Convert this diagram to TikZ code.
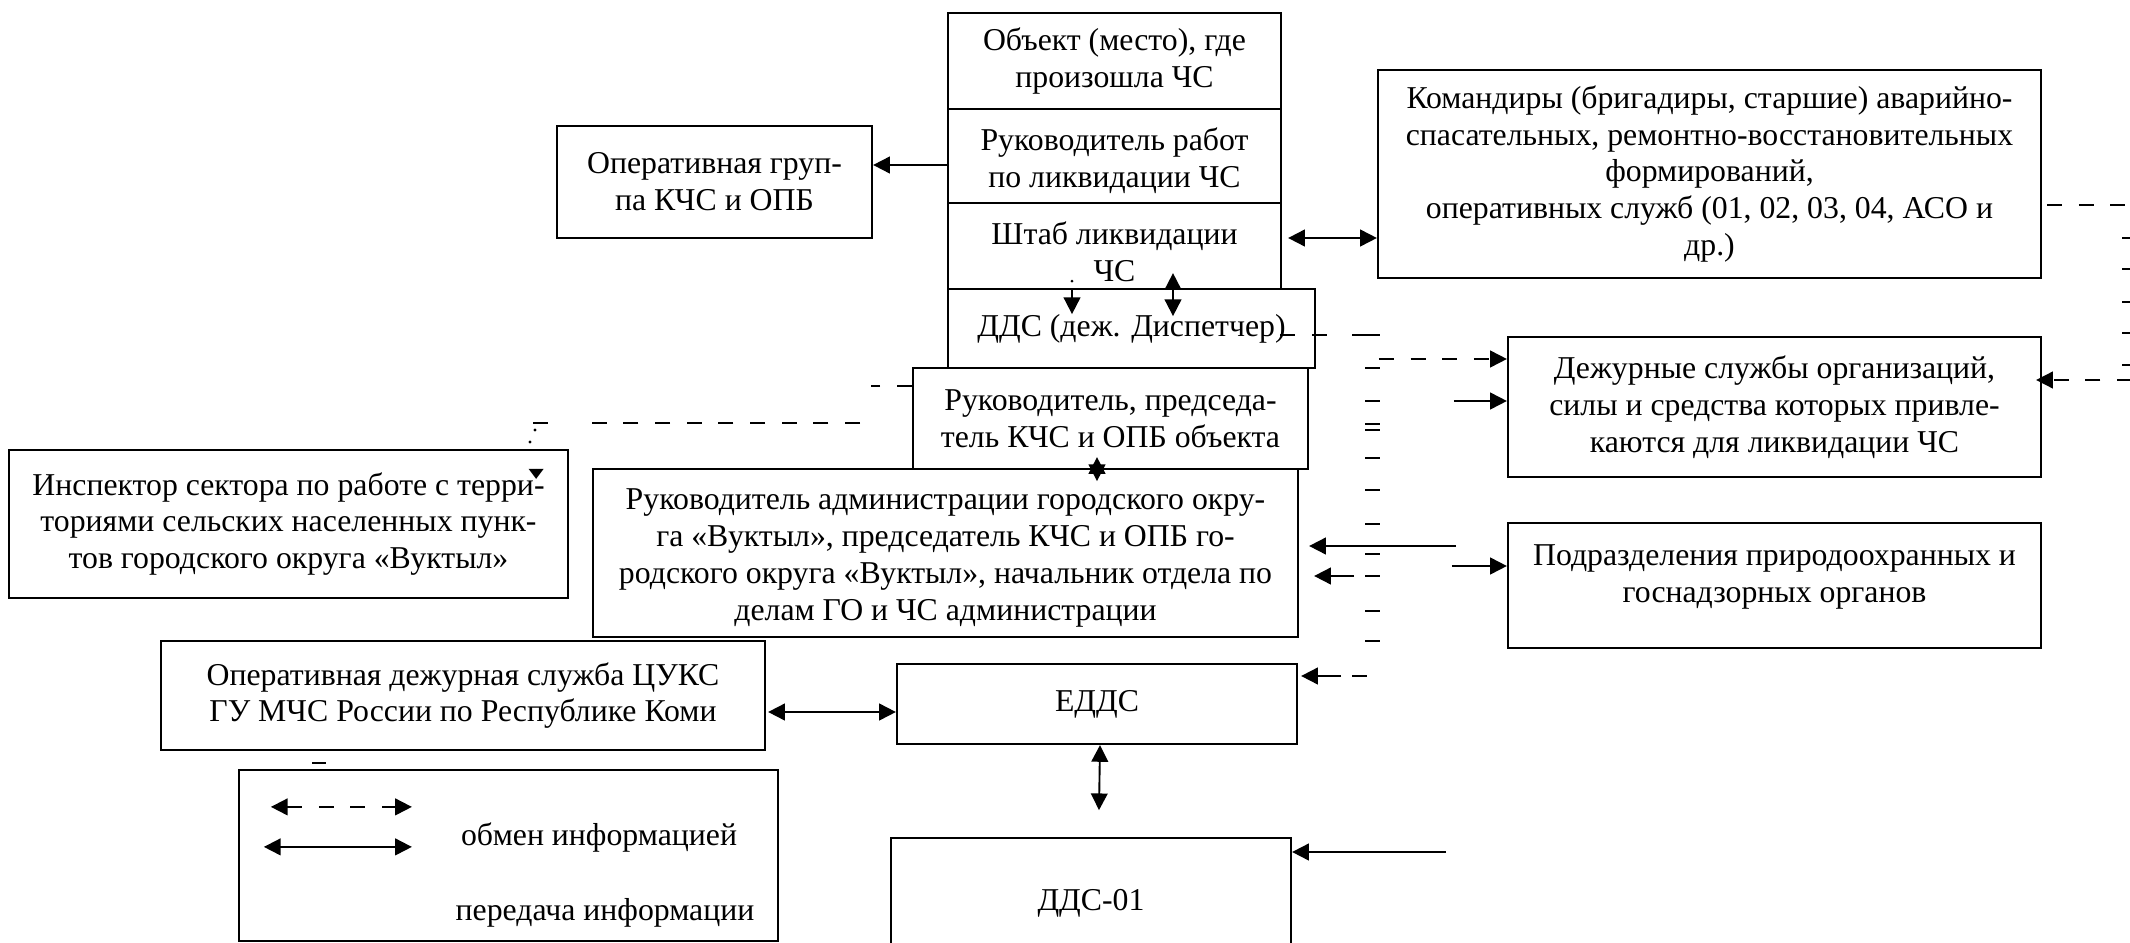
\documentclass[tikz,border=0pt]{standalone}
\usepackage{fontspec}
\setmainfont{Liberation Serif}
\usetikzlibrary{arrows.meta,calc}
\newcommand\fs{\fontsize{14.3pt}{16.6pt}\selectfont}
\newcommand\mybox[7][]{\node[box,minimum width={(#5-#3)*0.45pt},minimum height={(#6-#4)*0.45pt},#1] (#2) at ({(#3+#5)/2},{(#4+#6)/2}) {#7};}
\newcommand\tk[3]{\draw[ln] (#1,#3) -- (#2,#3);}
\newcommand\dn[1]{\rule[-#1]{0pt}{0pt}}
\newcommand\upr[1]{\rule{0pt}{#1}}
\begin{document}
\begin{tikzpicture}[x=0.45pt,y=-0.45pt,
  box/.style={draw,line width=1pt,inner sep=2pt,align=center,font=\fs},
  lbl/.style={inner sep=1pt,font=\fs},
  ln/.style={line width=0.85pt},
  arr/.style={ln,-{Triangle[length=7.5pt,width=7.5pt]}},
  darr/.style={ln,{Triangle[length=7.5pt,width=7.5pt]}-{Triangle[length=7.5pt,width=7.5pt]}},
  dsh/.style={dash pattern=on 6.75pt off 7.5pt}]
\useasboundingbox (0,0) rectangle (2130,943);

% boxes
\mybox{obj}{948}{13}{1281}{109}{Объект (место), где\\произошла ЧС}
\mybox{rr}{948}{109}{1281}{203}{\upr{14.5pt}Руководитель работ\\по ликвидации ЧС}
\mybox{sh}{948}{203}{1281}{289}{\upr{15.5pt}Штаб ликвидации\\ЧС}
\mybox{dds}{948}{289}{1315}{368}{ДДС (деж. Диспетчер)}
\mybox{rp}{913}{368}{1308}{469}{Руководитель, председа-\\тель КЧС и ОПБ объекта}
\mybox{og}{557}{126}{872}{238}{Оперативная груп-\\па КЧС и ОПБ}
\mybox{kom}{1378}{70}{2041}{278}{Командиры (бригадиры, старшие) аварийно-\\спасательных, ремонтно-восстановительных\\формирований,\\ оперативных служб (01, 02, 03, 04, АСО и\\др.)}
\mybox{dzh}{1508}{337}{2041}{477}{Дежурные службы организаций,\\силы и средства которых привле-\\каются для ликвидации ЧС}
\mybox{insp}{9}{450}{568}{598}{Инспектор сектора по работе с терри-\\ториями сельских населенных пунк-\\тов городского округа «Вуктыл»}
\mybox{ra}{593}{469}{1298}{637}{\upr{14pt}Руководитель администрации городского окру-\\га «Вуктыл», председатель КЧС и ОПБ го-\\родского округа «Вуктыл», начальник отдела по\\делам ГО и ЧС администрации}
\mybox{pod}{1508}{523}{2041}{648}{Подразделения природоохранных и\\госнадзорных органов\dn{11pt}}
\mybox{odz}{161}{641}{765}{750}{Оперативная дежурная служба ЦУКС\\ГУ МЧС России по Республике Коми}
\mybox{edds}{897}{664}{1297}{744}{ЕДДС}
\mybox{d01}{891}{838}{1291}{968}{ДДС-01}
\mybox{leg}{239}{770}{778}{941}{}
\node[lbl] (lg1) at (599,838) {обмен информацией};
\node[lbl] (lg2) at (605,913) {передача информации};

% legend arrows
\draw[darr,dsh] ($(leg.north west)+(33,38)$) -- ++(141,0);
\draw[darr] ($(leg.north west)+(26,78)$) -- ++(148,0);

% connectors
\draw[arr] ($(rr.west)+(0,9)$) coordinate (a1) -- (og.east |- a1);
\draw[darr] ($(sh.east)+(6,-8)$) coordinate (a2) -- (kom.west |- a2);
\fill ($(sh.south)+(-42.5,-9)$) circle (0.7pt);
\draw[arr] ($(sh.south)+(-42.5,0)$) -- ++(0,24);
\draw[darr] ($(sh.south)+(58.5,-17)$) -- ++(0,43);
\draw[darr] ($(rp.south)+(-13.5,-13)$) -- ($(rp.south)+(-13.5,11)$);

% rp -> insp (dashed)
\draw[ln,dsh] ($(rp.west)+(0,-32.5)$) -- ++(-41,0);
\draw[ln,dsh] (860,423) -- (578,423);
\tk{533}{548}{423}
\fill (535,430) circle (0.7pt);
\fill (530,442) circle (0.7pt);
\draw[ln,-{Triangle[length=4.5pt,width=6.5pt]}] ($(insp.north east)+(-33,20)$) -- ($(insp.north east)+(-33,30)$);

% dds dashes and dashed column
\tk{1280}{1295}{335}\tk{1312}{1327}{335}\tk{1352}{1380}{335}
\foreach \yy in {368,401,424,430,458,490,524,554,576,611,641} {\tk{1365}{1380}{\yy}}
\tk{1352}{1367}{676}
\draw[arr,dsh] ($(dzh.west)+(-128,-48)$) coordinate (b1) -- (dzh.west |- b1);
\draw[arr] ($(dzh.west)+(-53,-6)$) coordinate (b2) -- (dzh.west |- b2);
\draw[arr] ($(ra.east)+(157,-7)$) -- ($(ra.east)+(10,-7)$);
\draw[arr] ($(ra.east)+(55,23)$) -- ($(ra.east)+(15,23)$);
\draw[arr] ($(pod.west)+(-55,-19.5)$) coordinate (b3) -- (pod.west |- b3);
\draw[arr] ($(edds.east)+(43,-28)$) -- ($(edds.east)+(3,-28)$);

% komandiry right dashed loop
\draw[ln,dsh] ($(kom.east)+(5,31)$) -- ++(89,0);
\foreach \yy in {238,269,302,333,365} {\tk{2122}{2132}{\yy}}
\coordinate (rc) at (2132,380);
\draw[arr,dsh] (rc) -- ($(dzh.east)+(-6,-27)$);

% lower connectors
\draw[darr] ($(odz.east)+(2,16.5)$) coordinate (d1) -- (edds.west |- d1);
\draw[darr] ($(edds.south)+(3,0)$) -- ($(edds.south)+(2,65)$);
\draw[arr] ($(d01.east)+(154,-51)$) coordinate (e1) -- (d01.east |- e1);
\tk{312}{326}{763}
\end{tikzpicture}
\end{document}
